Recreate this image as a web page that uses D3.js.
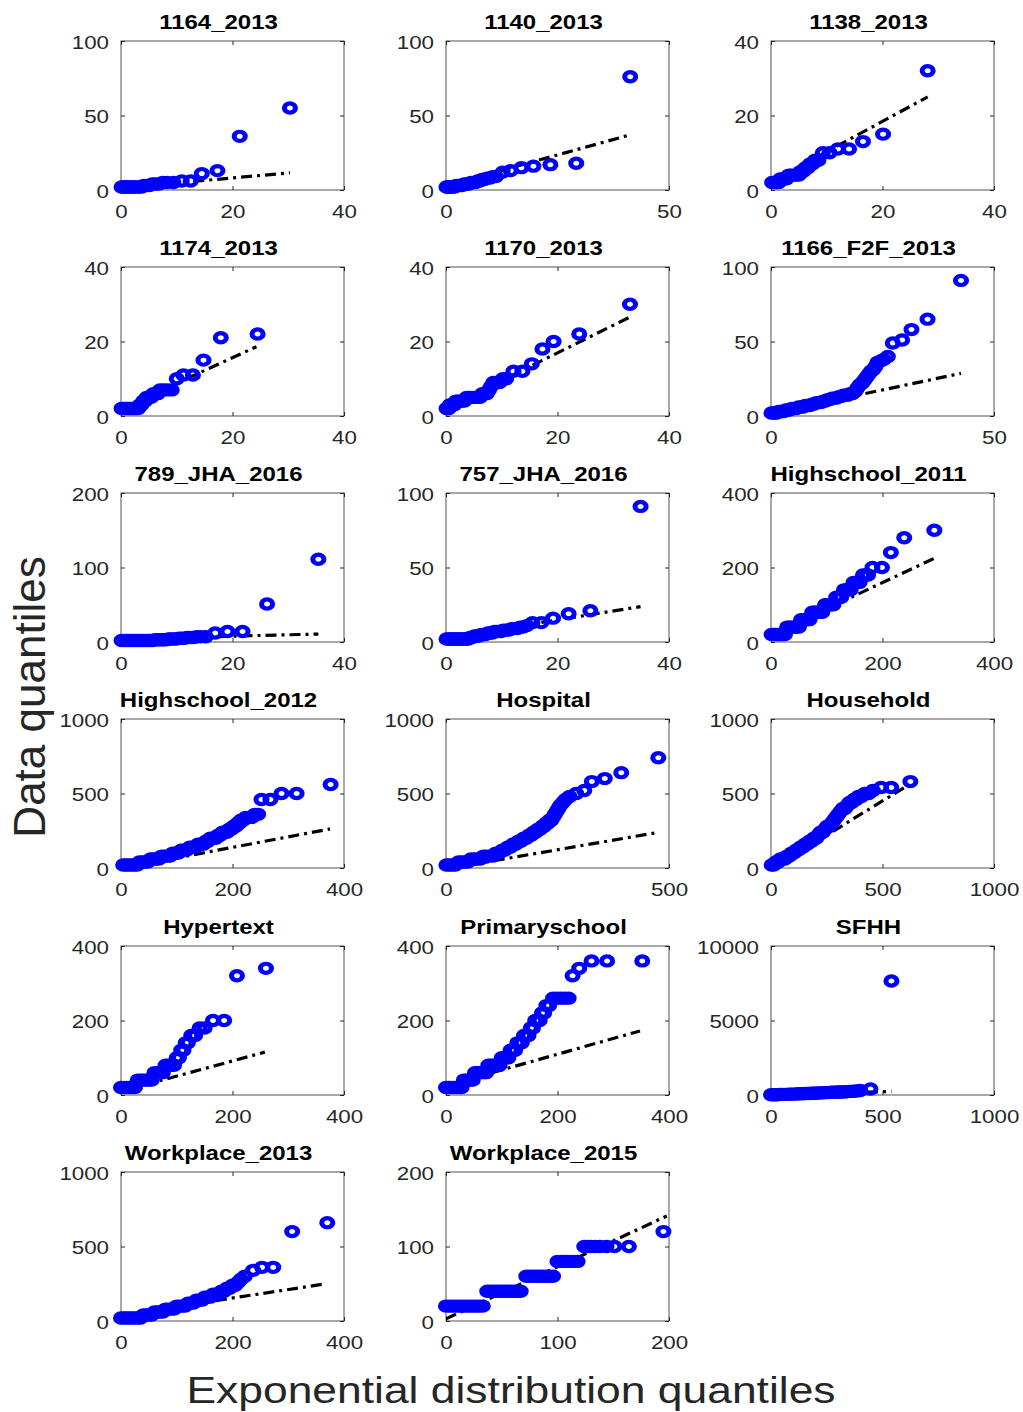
<!DOCTYPE html>
<html>
<head>
<meta charset="utf-8">
<script src="https://cdn.jsdelivr.net/npm/d3@7"></script>
<style>
  body { margin: 0; background: #fff; }
  text { font-family: "Liberation Sans", Arial, Helvetica, sans-serif; }
</style>
</head>
<body>
<svg id="chart"></svg>
<script>
// panel titles, in reading order (3 per row)
var titles = ['1164_2013', '1140_2013', '1138_2013', '1174_2013', '1170_2013', '1166_F2F_2013',
  '789_JHA_2016', '757_JHA_2016', 'Highschool_2011', 'Highschool_2012', 'Hospital', 'Household',
  'Hypertext', 'Primaryschool', 'SFHH', 'Workplace_2013', 'Workplace_2015'];

// tick labels per panel
var xTicks = [[0, 20, 40], [0, 50], [0, 20, 40], [0, 20, 40], [0, 20, 40], [0, 50],
  [0, 20, 40], [0, 20, 40], [0, 200, 400], [0, 200, 400], [0, 500], [0, 500, 1000],
  [0, 200, 400], [0, 200, 400], [0, 500, 1000], [0, 200, 400], [0, 100, 200]];
var yTicks = [[0, 50, 100], [0, 50, 100], [0, 20, 40], [0, 20, 40], [0, 20, 40], [0, 50, 100],
  [0, 100, 200], [0, 50, 100], [0, 200, 400], [0, 500, 1000], [0, 500, 1000], [0, 500, 1000],
  [0, 200, 400], [0, 200, 400], [0, 5000, 10000], [0, 500, 1000], [0, 100, 200]];

// quantile pairs [exponential quantile, data quantile]
var q1164 = [[0.1,2],[0.3,2],[0.6,2],[0.9,2],[1.2,2],[1.5,2],[1.8,2],[2.1,2],[2.5,2],[2.9,2],[3.3,2],[3.7,2],
  [4.1,3],[4.6,3],[5.1,3],[5.6,4],[6.2,4],[6.8,4],[7.5,5],[8.2,5],[9.4,5],[10.9,6],[12.5,6],[14.5,11],
  [17.3,13],[21.3,36],[30.3,55]];
var q1140 = [[0.1,2],[0.3,2],[0.6,2],[0.9,2],[1.2,2],[1.5,2],[1.9,2],[2.3,3],[2.7,3],[3.1,3],[3.6,3],[4.1,4],
  [4.6,4],[5.1,4],[5.6,5],[6.1,5],[6.6,5],[7.1,6],[7.6,6],[8.1,7],[8.6,7],[9.2,8],[9.9,8],[10.5,9],[11.2,9],
  [12.7,12],[14.5,13],[16.9,15],[19.6,16],[23.4,17],[29.2,18],[41.3,76]];
var q1138 = [[0.2,2],[0.5,2],[0.8,2],[1.1,2],[1.4,2],[1.7,3],[2.0,3],[2.4,3],[2.8,3],[3.2,4],[3.6,4],[4.0,4],
  [4.5,4],[5.0,4],[5.4,5],[5.8,5],[6.2,6],[6.6,6],[7.0,7],[7.4,7],[7.9,8],[8.5,8],[9.3,10],[10.5,10],
  [12.0,11],[14.0,11],[16.5,13],[20.1,15],[28.1,32]];
var q1174 = [[0.1,2],[0.4,2],[0.7,2],[1.0,2],[1.3,2],[1.6,2],[1.9,2],[2.2,2],[2.5,2],[2.8,2],[3.1,2],[3.4,3],
  [3.7,3],[4.0,4],[4.3,4],[4.6,5],[5.0,5],[5.4,5],[5.8,6],[6.2,6],[6.6,6],[7.0,7],[7.6,7],[8.3,7],[9.1,7],
  [10.0,10],[11.2,11],[12.9,11],[14.8,15],[17.9,21],[24.5,22]];
var q1170 = [[0.1,2],[0.3,2],[0.5,2],[0.7,3],[0.9,3],[1.2,3],[1.5,3],[1.8,4],[2.1,4],[2.5,4],[2.9,4],[3.3,4],
  [3.7,5],[4.1,5],[4.5,5],[4.9,5],[5.3,5],[5.7,5],[6.1,5],[6.5,6],[6.9,6],[7.3,6],[7.7,7],[8.1,8],[8.5,9],
  [9.05,9],[9.6,9],[10.2,10],[10.8,10],[12.1,12],[13.7,12],[15.4,14],[17.3,18],[19.3,20],[23.9,22],[33.0,30]];
var q1166 = [[0.1,2],[0.5,2],[0.9,2],[1.3,2],[1.7,3],[2.1,3],[2.5,3],[2.9,3],[3.3,4],[3.7,4],[4.2,4],[4.7,5],
  [5.2,5],[5.7,5],[6.2,6],[6.7,6],[7.2,6],[7.7,7],[8.2,7],[8.7,7],[9.2,8],[9.7,8],[10.2,9],[10.7,9],[11.2,9],
  [11.7,10],[12.2,10],[12.7,11],[13.2,11],[13.7,12],[14.2,12],[14.7,12],[15.2,13],[15.7,13],[16.2,14],
  [16.7,14],[17.2,14],[17.7,15],[18.2,15],[18.6,16],[19.0,17],[19.4,19],[19.9,21],[20.4,22],[20.9,24],
  [21.4,26],[21.9,28],[22.4,30],[22.9,31],[23.4,33],[23.9,36],[24.6,37],[25.3,38],[26.2,40],[27.3,49],
  [29.4,51],[31.5,58],[35.1,65],[42.6,91]];
var q789 = [[0.1,2],[0.5,2],[0.9,2],[1.3,2],[1.7,2],[2.1,2],[2.5,2],[2.9,2],[3.3,2],[3.7,2],[4.1,2],[4.5,2],
  [4.9,2],[5.3,2],[5.7,2],[6.1,3],[6.5,3],[6.9,3],[7.3,3],[7.7,3],[8.1,3],[8.5,4],[8.9,4],[9.4,4],[9.9,4],
  [10.4,5],[10.9,5],[11.4,5],[11.9,6],[12.5,6],[13.0,6],[13.6,7],[14.3,7],[15.2,7],[16.9,12],[19.1,14],
  [21.8,14],[26.2,51],[35.4,111]];
var q757 = [[0.1,2],[0.4,2],[0.7,2],[1.0,2],[1.3,2],[1.6,2],[1.9,2],[2.2,2],[2.5,2],[2.8,2],[3.1,2],[3.4,2],
  [3.7,2],[4.0,2],[4.3,3],[4.7,3],[5.1,4],[5.5,4],[5.9,4],[6.3,5],[6.7,5],[7.1,5],[7.5,6],[7.9,6],[8.3,6],
  [8.7,7],[9.1,7],[9.5,7],[9.9,7],[10.3,8],[10.8,8],[11.3,8],[11.8,9],[12.3,9],[12.8,9],[13.3,10],[13.8,10],
  [14.5,11],[15.5,13],[17.1,13],[19.2,16],[22.0,19],[25.9,21],[34.9,91]];
var qHigh2011 = [[1,20],[4,20],[7,20],[10,20],[13,20],[16,20],[19,20],[22,20],[25,20],
  [29,40],[32,40],[35,40],[38,40],[41,40],[44,40],[47,40],[50,40],
  [54,60],[57,60],[60,60],[63,60],[66,60],[69,60],
  [74,80],[77,80],[80,80],[83,80],[86,80],[89,80],[92,80],
  [97,100],[100,100],[103,100],[106,100],[109,100],[112,100],
  [117,120],[120,120],[123,120],[126,120],
  [131,140],[134,140],[137,140],[140,140],[143,140],
  [148,160],[151,160],[155,160],[159,160],
  [165,180],[170,180],[174,180],[182,200],[199,200],[215,240],[239,280],[293,300]];
var qHigh2012 = [[4,20],[9,20],[14,20],[19,20],[24,20],[29,20],[33,40],[38,40],[43,40],[48,40],
  [53,60],[58,60],[63,60],[68,60],[73,80],[78,80],[83,80],[88,80],[93,100],[98,100],[103,100],
  [108,120],[113,120],[118,120],[123,140],[128,140],[133,140],[138,160],[143,160],[148,160],
  [152,180],[156,180],[160,200],[165,200],[170,200],[174,220],[178,220],[182,240],[186,240],[190,240],
  [194,260],[198,260],[202,280],[206,280],[209,300],[212,300],[215,320],[219,320],[224,340],[230,340],
  [235,340],[240,360],[246,360],[252,460],[268,460],[288,500],[315,500],[376,560]];
var qHospital = [[1,20],[7,20],[14,20],[21,20],[28,40],[35,40],[42,40],[49,40],[56,60],[63,60],[70,60],
  [77,60],[84,80],[91,80],[98,80],[105,80],[112,100],[119,100],[126,120],[132,120],[138,140],[144,140],
  [150,160],[156,160],[162,180],[168,180],[174,200],[180,200],[186,220],[191,220],[196,240],[201,240],
  [206,260],[211,260],[216,280],[220,280],[224,300],[228,300],[232,320],[236,320],[240,340],[244,360],
  [248,380],[252,400],[256,420],[262,440],[268,460],[277,480],[292,500],[310,520],[327,580],[356,600],
  [393,640],[476,740]];
var qHousehold = [[3,20],[12,20],[22,40],[32,40],[42,60],[52,60],[62,60],[72,80],[82,80],[92,100],[102,100],
  [112,120],[122,120],[132,140],[142,140],[152,160],[162,160],[172,180],[182,180],[192,200],[202,200],
  [212,220],[222,240],[232,240],[242,260],[252,280],[262,280],[272,300],[282,320],[292,340],[302,360],
  [312,380],[322,400],[332,400],[342,420],[352,440],[362,440],[372,460],[382,460],[392,480],[405,480],
  [420,500],[438,500],[457,520],[494,540],[539,540],[625,580]];
var qHypertext = [[0,20],[5,20],[10,20],[15,20],[20,20],[25,20],[30,40],[35,40],[40,40],[45,40],[50,40],
  [55,40],[60,60],[65,60],[70,60],[75,60],[80,80],[85,80],[90,80],[95,80],[100,100],[104,100],[108,120],
  [112,120],[116,140],[120,140],[126,160],[133,160],[141,180],[150,180],[165,200],[185,200],[208,320],
  [260,340]];
var qPrimary = [[0,20],[4,20],[8,20],[12,20],[16,20],[20,20],[24,20],[28,20],[32,40],[36,40],[40,40],[44,40],
  [48,40],[52,60],[56,60],[60,60],[64,60],[68,60],[72,60],[76,80],[80,80],[84,80],[88,80],[92,80],[96,80],
  [100,100],[104,100],[108,100],[112,100],[116,120],[120,120],[124,120],[128,140],[132,140],[136,140],
  [140,160],[144,160],[148,160],[152,180],[156,180],[160,200],[164,200],[168,200],[172,220],[176,220],
  [180,240],[185,240],[192,260],[199,260],[206,260],[213,260],[220,260],[227,320],[239,340],[261,360],
  [289,360],[352,360]];
var qSFHH = [[0,20],[10,20],[20,20],[30,20],[40,40],[50,40],[60,40],[70,40],[80,60],[90,60],[100,60],[110,60],
  [120,80],[130,80],[140,80],[150,100],[160,100],[170,100],[180,120],[190,120],[200,120],[210,140],[220,140],
  [230,140],[240,160],[250,160],[260,160],[270,180],[280,180],[290,180],[300,200],[310,200],[320,200],
  [330,220],[340,220],[350,240],[360,240],[370,260],[380,260],[390,280],[400,300],[446,400],[540,7650]];
var qWork2013 = [[0,20],[5,20],[10,20],[15,20],[20,20],[25,20],[30,20],[35,20],[40,40],[45,40],[50,40],[55,40],
  [60,60],[65,60],[70,60],[75,60],[80,80],[85,80],[90,80],[95,80],[100,100],[105,100],[110,100],[115,100],
  [120,120],[125,120],[130,120],[135,140],[140,140],[145,140],[150,160],[155,160],[160,160],[165,180],
  [170,180],[175,180],[180,200],[185,200],[190,220],[195,220],[200,240],[205,240],[210,260],[215,280],
  [222,300],[237,340],[253,360],[273,360],[307,600],[370,660]];
var qWork2015 = [[0,20],[3,20],[6,20],[9,20],[12,20],[15,20],[18,20],[21,20],[24,20],[27,20],[30,20],[33,20],
  [37,40],[40,40],[43,40],[46,40],[49,40],[52,40],[55,40],[58,40],[61,40],[64,40],[67,40],
  [72,60],[75,60],[78,60],[81,60],[84,60],[87,60],[90,60],[93,60],[96,60],
  [100,80],[103,80],[106,80],[109,80],[112,80],[115,80],[118,80],
  [124,100],[127,100],[130,100],[134,100],[138,100],[144,100],[151,100],[164,100],[195,120]];

var quantiles = [q1164, q1140, q1138, q1174, q1170, q1166, q789, q757, qHigh2011, qHigh2012,
  qHospital, qHousehold, qHypertext, qPrimary, qSFHH, qWork2013, qWork2015];

// reference lines [x0, y0, x1, y1]
var refLines = [[0.1,1.5,30.3,11.5], [0.1,3,41.3,37], [0.4,2.5,28.1,25], [0.1,2,24.3,18.6],
  [0.1,2.2,32.9,26.5], [0.1,1.8,42.6,28.6], [0.1,4,35.4,10.7], [0.1,3,34.9,23.7],
  [1,20,292.9,224.6], [4,0,375,262], [1,-6,474,238], [3,-6,620,560],
  [0,10,258,115], [0,25,348,172], [0,0,540,240], [0,40,368,250], [0,3,198,141]];

var width = 1023, height = 1412;
var colX = [121, 446, 771];
var rowY = [41, 267, 493, 719, 946, 1172];
var boxW = 223, boxH = 149;
var sx = 1.2; // horizontal stretch of the original figure

var svg = d3.select('#chart')
  .attr('width', width)
  .attr('height', height)
  .style('background', '#fff');

var defs = svg.append('defs');
var fmt = d3.format('d');

quantiles.forEach(function(data, i) {
  var col = i % 3, row = Math.floor(i / 3);
  var xt = xTicks[i], yt = yTicks[i];

  var x = d3.scaleLinear().domain([0, xt[xt.length - 1]]).range([0, boxW]);
  var y = d3.scaleLinear().domain([0, yt[yt.length - 1]]).range([boxH, 0]);

  var g = svg.append('g')
    .attr('transform', 'translate(' + colX[col] + ',' + rowY[row] + ')');

  defs.append('clipPath').attr('id', 'clip' + i)
    .append('rect').attr('width', boxW).attr('height', boxH);

  // axes, ticks pointing inward on all four sides
  var bottom = g.append('g').attr('transform', 'translate(0,' + boxH + ')')
    .call(d3.axisBottom(x).tickValues(xt).tickFormat(fmt).tickSizeInner(-4).tickSizeOuter(0).tickPadding(15));
  g.append('g')
    .call(d3.axisTop(x).tickValues(xt).tickSizeInner(-4).tickSizeOuter(0).tickFormat(''));
  var left = g.append('g')
    .call(d3.axisLeft(y).tickValues(yt).tickFormat(fmt).tickSizeInner(-4).tickSizeOuter(0).tickPadding(12));
  g.append('g').attr('transform', 'translate(' + boxW + ',0)')
    .call(d3.axisRight(y).tickValues(yt).tickSizeInner(-4).tickSizeOuter(0).tickFormat(''));

  g.selectAll('.domain').remove();
  g.selectAll('.tick line').attr('stroke', '#262626');
  g.selectAll('.tick text')
    .attr('fill', '#262626')
    .style('font-size', '18.6px');
  bottom.selectAll('.tick text').attr('transform', 'scale(' + sx + ',1)');
  left.selectAll('.tick text')
    .attr('x', -12 / sx)
    .attr('dy', '0.4em')
    .attr('transform', 'scale(' + sx + ',1)');

  g.append('rect')
    .attr('width', boxW)
    .attr('height', boxH)
    .attr('fill', 'none')
    .attr('stroke', '#262626')
    .attr('stroke-width', 0.8);

  // reference line
  var ln = refLines[i];
  g.append('line')
    .attr('clip-path', 'url(#clip' + i + ')')
    .attr('x1', x(ln[0])).attr('y1', y(ln[1]))
    .attr('x2', x(ln[2])).attr('y2', y(ln[3]))
    .attr('stroke', '#000')
    .attr('stroke-width', 3.2)
    .attr('stroke-dasharray', '11,5,3,5');

  // data quantiles
  g.selectAll('circle.pt')
    .data(data)
    .enter().append('circle')
    .attr('class', 'pt')
    .attr('r', 4.6)
    .attr('transform', function(d) {
      return 'translate(' + x(d[0]) + ',' + y(d[1]) + ') scale(' + sx + ',1)';
    })
    .attr('fill', 'none')
    .attr('stroke', '#0000ff')
    .attr('stroke-width', 4.2);

  g.append('text')
    .attr('transform', 'translate(' + (boxW / 2 - 14) + ',-11.7) scale(' + sx + ',1)')
    .attr('text-anchor', 'middle')
    .style('font-size', '20px')
    .style('font-weight', 'bold')
    .attr('fill', '#000')
    .text(titles[i]);
});

svg.append('text')
  .attr('transform', 'translate(511,1403) scale(' + sx + ',1)')
  .attr('text-anchor', 'middle')
  .style('font-size', '37px')
  .attr('fill', '#262626')
  .text('Exponential distribution quantiles');

svg.append('text')
  .attr('transform', 'translate(45,697) rotate(-90)')
  .attr('text-anchor', 'middle')
  .style('font-size', '44px')
  .attr('fill', '#262626')
  .text('Data quantiles');
</script>
</body>
</html>
